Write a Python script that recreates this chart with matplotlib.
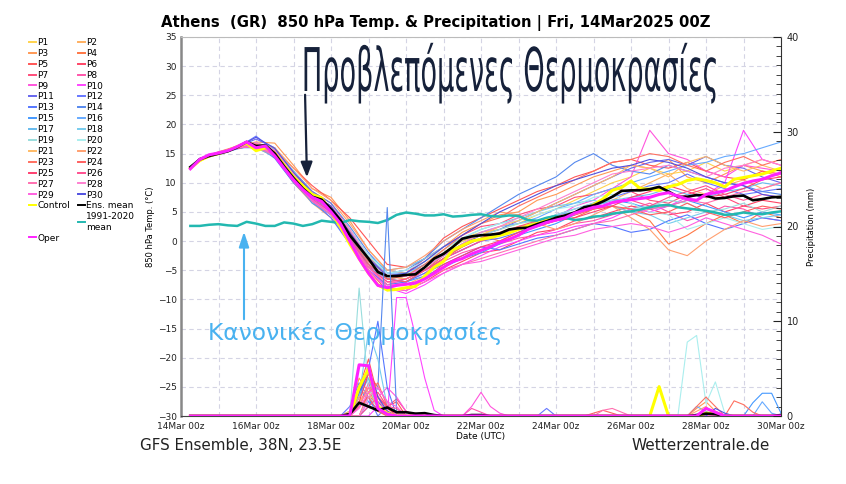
import numpy as np
import matplotlib
matplotlib.use('Agg')
import matplotlib.pyplot as plt
import matplotlib.font_manager as fm
from matplotlib.lines import Line2D
from matplotlib.patheffects import AbstractPathEffect
from matplotlib.transforms import Affine2D

# forecast hours (GFS 00Z run, 14Mar2025)
hours = np.arange(6, 385, 6)                      # 6h steps for mean/control/oper/climate
member_hours = np.array([6] + list(range(12, 385, 12)))  # 12h steps for members

ens_mean = [12.7, 14.0, 14.6, 15.0, 15.4, 16.1, 17.0, 16.3, 16.4, 15.0, 12.8, 10.8, 9.0, 7.6, 7.1, 5.5,
            3.6, 1.0, -1.0, -3.0, -5.3, -6.0, -6.0, -5.8, -5.7, -4.5, -3.0, -2.2, -1.0, 0.4, 0.8, 1.0,
            1.1, 1.3, 2.0, 2.2, 2.3, 2.9, 3.4, 4.0, 4.4, 4.9, 5.8, 6.1, 6.8, 7.6, 8.6, 8.7,
            8.7, 8.9, 9.3, 8.5, 7.6, 7.6, 7.9, 7.8, 7.3, 7.4, 7.7, 7.8, 7.0, 7.2, 7.5, 7.6]
control = [12.5, 13.8, 14.6, 15.0, 15.5, 16.2, 16.8, 15.5, 16.0, 15.0, 13.0, 11.0, 9.5, 8.0, 7.4, 5.0,
           2.5, -0.5, -3.0, -5.5, -7.5, -8.4, -8.3, -8.0, -7.8, -6.0, -4.5, -3.5, -1.5, -0.8, 0.0, 0.3,
           0.6, 1.0, 1.4, 2.0, 2.6, 3.0, 3.5, 3.9, 4.3, 4.8, 5.3, 6.2, 7.2, 8.7, 9.2, 10.3,
           9.0, 8.9, 8.7, 9.3, 9.7, 10.4, 10.7, 10.4, 10.0, 9.3, 10.6, 10.9, 11.2, 11.5, 12.0, 12.5]
oper = [12.4, 14.0, 14.8, 15.1, 15.5, 16.2, 17.0, 16.0, 16.3, 14.6, 12.5, 10.5, 8.8, 7.5, 6.8, 5.0,
        3.0, 0.0, -3.0, -5.5, -7.6, -8.0, -7.6, -7.4, -7.2, -6.5, -5.5, -4.5, -3.5, -3.0, -2.2, -1.6,
        -1.0, -0.2, 0.3, 1.0, 2.0, 2.6, 3.2, 3.6, 4.0, 4.8, 5.3, 5.8, 6.0, 6.6, 6.9, 7.1,
        7.3, 7.5, 8.0, 8.3, 7.7, 7.2, 7.0, 8.0, 8.3, 8.6, 9.3, 9.9, 10.3, 10.6, 11.2, 11.7]
clim = [2.6, 2.6, 2.8, 2.9, 2.7, 2.6, 3.3, 3.0, 2.6, 2.6, 3.2, 3.0, 2.6, 2.9, 3.5, 3.3,
        3.1, 3.6, 3.4, 3.3, 3.1, 3.6, 4.5, 4.9, 4.7, 4.4, 4.4, 4.6, 4.2, 4.3, 4.5, 4.6,
        4.3, 4.2, 4.4, 4.3, 3.6, 3.5, 4.0, 4.3, 4.0, 3.6, 3.8, 4.2, 4.3, 4.7, 4.9, 5.1,
        5.4, 5.8, 6.1, 6.2, 5.8, 5.6, 5.4, 5.2, 4.9, 4.5, 4.6, 4.9, 4.7, 4.6, 4.9, 5.1]

members = {
    'P1': [12.5, 14.1, 15.2, 16.0, 16.6, 15.4, 11.5, 7.8, 5.8, 1.5, -3.5, -6.5, -6.0, -4.0, -1.5, 0.5, 1.5, 2.0, 3.0, 4.5, 5.5, 7.0, 8.5, 10.0, 11.0, 12.5, 11.5, 12.0, 13.5, 12.0, 13.0, 14.0, 13.0],
    'P2': [12.6, 14.0, 15.0, 16.2, 16.0, 14.5, 10.0, 6.5, 4.0, 0.0, -4.5, -7.0, -7.5, -6.0, -3.0, -1.0, 0.5, 1.0, 2.5, 3.0, 4.0, 5.0, 6.5, 7.0, 8.5, 10.0, 11.5, 9.0, 8.0, 9.5, 10.5, 9.0, 10.0],
    'P3': [12.4, 14.2, 15.3, 16.3, 17.0, 16.8, 13.0, 9.0, 7.5, 3.5, -1.5, -5.0, -5.5, -3.5, -1.0, 1.5, 3.0, 4.5, 5.0, 7.0, 8.0, 9.5, 11.0, 12.0, 13.0, 12.5, 14.0, 11.0, 10.0, 11.5, 13.0, 12.0, 11.0],
    'P4': [12.7, 13.9, 15.0, 15.9, 16.4, 14.8, 11.0, 8.0, 6.0, 2.0, -2.5, -6.0, -6.5, -5.0, -2.5, -0.5, 1.0, 0.0, 1.5, 2.5, 3.5, 4.0, 5.5, 6.0, 5.0, 3.5, -0.5, 1.0, 3.0, 4.5, 3.0, 5.0, 4.0],
    'P5': [12.5, 14.0, 15.1, 16.1, 16.2, 15.8, 12.5, 9.5, 7.0, 4.0, 0.0, -4.0, -4.5, -3.0, 0.5, 2.5, 4.0, 5.5, 7.0, 8.5, 9.5, 11.0, 12.0, 13.5, 14.0, 13.0, 12.5, 13.5, 12.0, 11.0, 10.5, 12.0, 11.5],
    'P6': [12.6, 14.1, 15.0, 16.0, 16.8, 15.0, 11.0, 7.0, 4.5, 0.5, -4.0, -8.0, -8.5, -7.0, -5.0, -3.5, -2.0, -1.5, 0.0, 1.5, 2.0, 3.5, 4.0, 5.0, 6.0, 5.5, 4.5, 5.0, 6.5, 5.0, 6.0, 7.0, 6.5],
    'P7': [12.5, 14.0, 15.2, 16.2, 16.5, 15.5, 11.8, 8.5, 6.5, 2.0, -3.0, -6.0, -5.5, -3.0, -1.0, 1.0, 2.5, 3.0, 4.5, 5.5, 6.0, 7.5, 8.0, 9.0, 8.5, 7.0, 6.5, 8.0, 9.0, 7.5, 6.0, 5.5, 6.0],
    'P8': [12.4, 14.0, 15.1, 16.0, 16.4, 14.9, 10.5, 7.0, 5.0, 0.5, -4.5, -7.5, -6.5, -5.0, -3.5, -2.0, -1.0, -0.5, 0.5, 1.0, 2.0, 3.0, 3.5, 4.5, 5.5, 6.5, 5.0, 3.5, 4.5, 6.0, 5.5, 4.0, 3.5],
    'P9': [12.6, 14.2, 15.3, 16.1, 16.6, 15.3, 11.2, 7.5, 5.5, 1.0, -4.0, -7.0, -7.0, -5.5, -3.0, -1.5, 0.0, 1.0, 2.5, 3.0, 4.0, 6.0, 7.0, 9.0, 11.0, 19.0, 15.0, 14.0, 12.0, 11.0, 13.0, 12.5, 12.0],
    'P10': [12.5, 14.0, 15.0, 16.0, 16.3, 15.1, 10.8, 7.2, 5.2, 0.5, -4.5, -8.0, -9.0, -7.5, -5.5, -4.0, -2.5, -1.0, 0.0, 1.0, 1.5, 2.5, 3.0, 4.0, 5.5, 5.0, 6.0, 7.5, 8.0, 10.0, 19.0, 14.0, 13.0],
    'P11': [12.6, 14.1, 15.1, 16.1, 17.5, 16.0, 11.5, 8.0, 5.5, 1.0, -3.0, -6.0, -6.0, -4.5, -2.5, -0.5, 1.0, 2.0, 3.5, 5.0, 6.5, 8.0, 9.5, 11.0, 12.5, 13.5, 14.0, 13.0, 14.5, 13.0, 12.5, 11.0, 10.0],
    'P12': [12.5, 14.0, 15.0, 16.0, 18.0, 15.5, 11.0, 7.5, 5.0, 0.0, -4.0, -6.5, -7.0, -5.0, -3.0, -1.5, 0.0, 0.5, 1.5, 3.0, 4.5, 5.5, 6.5, 7.5, 8.5, 9.5, 10.0, 11.5, 10.0, 9.0, 8.0, 8.5, 9.0],
    'P13': [12.4, 13.9, 14.9, 15.8, 16.5, 14.2, 10.0, 6.8, 4.0, -0.5, -5.0, -7.5, -7.0, -5.5, -4.0, -2.5, -1.0, -1.5, -0.5, 0.5, 1.0, 2.0, 3.0, 2.5, 1.5, 2.0, 3.5, 4.5, 3.0, 2.0, 3.0, 4.0, 3.5],
    'P14': [12.6, 14.1, 15.2, 16.0, 16.9, 15.6, 12.0, 8.5, 6.5, 2.5, -2.0, -5.5, -5.0, -3.0, 0.0, 2.0, 4.0, 6.0, 8.0, 9.5, 11.0, 13.5, 15.0, 13.0, 12.0, 11.5, 13.0, 12.0, 11.0, 10.0, 9.5, 8.5, 8.0],
    'P15': [12.5, 14.0, 15.0, 15.9, 16.4, 14.7, 10.5, 6.5, 4.5, 0.5, -3.5, -6.5, -7.0, -6.0, -4.5, -3.0, -2.0, -0.5, 1.0, 2.0, 3.0, 4.5, 6.0, 7.0, 6.5, 5.5, 6.0, 7.0, 6.0, 5.0, 4.0, 5.0, 4.5],
    'P16': [12.7, 14.2, 15.1, 16.2, 16.2, 15.2, 11.0, 7.5, 5.5, 1.5, -3.0, -5.5, -5.5, -4.0, -2.0, 0.0, 1.5, 2.5, 3.0, 4.0, 5.5, 6.5, 8.0, 9.0, 10.0, 11.0, 12.0, 13.0, 13.5, 14.5, 15.0, 16.0, 17.0],
    'P17': [12.5, 14.0, 15.0, 16.0, 16.0, 14.5, 10.5, 7.0, 4.5, 0.0, -4.5, -6.5, -6.0, -4.0, -2.5, -1.0, 0.5, 1.0, 2.0, 3.5, 4.5, 5.0, 6.0, 7.0, 7.5, 8.0, 9.0, 8.0, 7.5, 8.5, 9.0, 10.0, 9.5],
    'P18': [12.6, 14.1, 15.2, 16.1, 16.7, 15.8, 12.0, 8.0, 6.0, 2.0, -2.5, -5.0, -4.5, -3.0, -1.0, 0.5, 2.0, 3.0, 4.0, 5.0, 6.0, 6.5, 7.0, 6.0, 5.0, 4.5, 3.0, 4.0, 5.0, 4.5, 3.5, 4.0, 4.5],
    'P19': [12.5, 13.9, 15.0, 16.0, 16.3, 15.0, 10.8, 7.2, 5.0, 1.0, -3.5, -6.0, -5.5, -4.5, -2.0, 0.0, 1.0, 2.0, 3.0, 3.5, 4.5, 5.5, 6.5, 7.0, 5.5, 6.0, 7.0, 6.5, 5.0, 5.5, 6.5, 5.0, 6.0],
    'P20': [12.6, 14.0, 15.1, 16.1, 16.5, 15.4, 11.5, 7.8, 6.0, 2.0, -2.5, -5.5, -5.0, -3.5, -1.5, 0.5, 2.0, 3.0, 3.5, 4.5, 5.5, 6.0, 7.5, 8.0, 6.5, 5.0, 4.5, 2.0, 3.0, 4.0, 3.0, 2.0, 2.5],
    'P21': [12.4, 14.1, 15.1, 16.0, 16.6, 15.5, 11.8, 8.0, 5.5, 1.5, -3.0, -6.0, -6.5, -4.5, -2.0, 0.0, 1.0, 2.5, 3.5, 5.0, 6.5, 8.0, 9.5, 11.0, 13.0, 12.5, 11.0, 13.5, 14.5, 13.0, 12.0, 13.0, 12.0],
    'P22': [12.5, 14.0, 15.0, 16.1, 16.8, 16.0, 12.5, 9.0, 7.0, 3.0, -1.5, -5.0, -4.5, -2.5, 0.0, 2.0, 3.5, 5.0, 4.5, 3.0, 2.0, 3.0, 4.5, 6.0, 4.0, 2.0, -1.5, -2.5, 0.0, 2.0, 3.5, 2.5, 3.0],
    'P23': [12.6, 14.1, 15.2, 16.0, 16.3, 15.0, 11.0, 7.5, 5.5, 1.0, -4.0, -6.5, -6.0, -4.0, -1.5, 1.0, 3.0, 4.0, 6.0, 7.5, 9.0, 10.5, 12.0, 13.5, 14.0, 15.0, 14.5, 13.0, 12.0, 13.5, 14.5, 13.0, 14.0],
    'P24': [12.5, 14.0, 15.1, 16.2, 16.5, 15.3, 11.2, 7.8, 5.8, 1.5, -3.5, -6.5, -7.0, -5.0, -3.0, -1.0, 0.5, 1.5, 2.5, 3.5, 4.0, 4.5, 5.5, 6.0, 5.5, 4.5, 5.0, 6.5, 5.0, 4.0, 5.0, 6.0, 5.5],
    'P25': [12.6, 14.1, 15.0, 15.9, 16.4, 14.9, 10.5, 7.0, 5.0, 0.0, -5.0, -8.5, -8.0, -6.5, -4.0, -2.5, -1.0, 0.0, 1.5, 2.5, 3.5, 4.0, 5.0, 6.0, 7.5, 8.5, 9.5, 8.5, 7.5, 8.0, 9.0, 10.5, 11.0],
    'P26': [12.5, 14.0, 15.2, 16.1, 16.6, 15.1, 11.0, 7.2, 5.0, 0.5, -4.5, -7.0, -6.5, -5.0, -3.0, -1.5, 0.0, 1.0, 2.0, 3.0, 4.0, 4.5, 5.5, 6.5, 7.0, 6.0, 7.5, 8.5, 9.5, 8.0, 7.0, 8.0, 7.5],
    'P27': [12.4, 13.9, 15.0, 16.0, 16.2, 14.6, 10.2, 6.8, 4.5, 0.0, -4.5, -7.5, -7.5, -6.5, -5.0, -4.0, -3.0, -2.0, -1.0, 0.0, 1.0, 2.0, 3.0, 3.5, 4.5, 5.5, 6.0, 7.0, 6.5, 7.5, 8.5, 9.0, 10.0],
    'P28': [12.6, 14.1, 15.1, 16.1, 16.9, 15.6, 11.5, 8.0, 6.0, 2.0, -3.0, -6.0, -6.0, -4.5, -2.5, -0.5, 1.5, 2.5, 4.0, 5.5, 7.0, 8.5, 10.0, 11.5, 12.0, 12.5, 13.0, 12.0, 11.0, 12.5, 13.0, 14.0, 13.0],
    'P29': [12.5, 14.0, 15.0, 16.0, 16.4, 14.8, 10.6, 7.0, 4.8, 0.0, -5.0, -8.0, -8.5, -7.0, -5.5, -4.0, -3.5, -2.5, -1.5, -0.5, 0.5, 1.0, 2.0, 2.5, 3.0, 2.5, 1.5, 2.5, 4.0, 3.0, 2.0, 1.0, -0.5],
    'P30': [12.6, 14.1, 15.1, 16.1, 17.8, 15.9, 11.8, 8.2, 6.0, 1.5, -3.0, -6.0, -5.5, -3.5, -1.0, 1.0, 3.0, 5.0, 6.5, 8.0, 9.5, 10.5, 11.5, 12.5, 13.0, 14.0, 13.5, 12.5, 11.0, 10.0, 9.5, 8.0, 7.5],
}

member_colors = ['#ffd34d', '#ffb060', '#ff9955', '#ff7744', '#ff5555', '#ff4466', '#ff4d7a', '#ff55aa',
                 '#ff55dd', '#ff44ff', '#6666ee', '#6677ff', '#5577ff', '#5588ee', '#4499ff', '#66aaff',
                 '#66bbee', '#77ccee', '#99dddd', '#aaeeee', '#ffbb66', '#ffa070', '#ff7060', '#ff6060',
                 '#ff4070', '#ff5090', '#ff70b0', '#ff80d0', '#ff60e0', '#5050e0']

# 6-hourly precipitation (mm), only the non-zero steps: (forecast hour, mm)
member_precip = {
    'P1': [(108, 0.3), (114, 2.0), (120, 1.0), (126, 0.5)],
    'P2': [(114, 1.5), (120, 3.0), (126, 0.8), (132, 0.3)],
    'P3': [(108, 0.5), (114, 4.0), (120, 2.5), (126, 1.2), (138, 0.3), (330, 0.8), (336, 1.5), (342, 0.5)],
    'P4': [(114, 1.0), (120, 2.0), (126, 1.5), (132, 0.5), (150, 0.3)],
    'P5': [(114, 3.0), (120, 6.0), (126, 2.0), (132, 1.0), (138, 1.5)],
    'P6': [(108, 0.3), (114, 2.5), (120, 4.5), (126, 3.0), (132, 1.5), (144, 0.5)],
    'P7': [(120, 2.0), (126, 2.5), (132, 1.0), (138, 1.8), (144, 0.5)],
    'P8': [(114, 1.0), (120, 3.5), (126, 1.0), (186, 0.8), (192, 0.4)],
    'P9': [(120, 1.5), (126, 2.0), (132, 3.0), (138, 2.0), (144, 0.5), (186, 1.0), (192, 2.5), (198, 1.0), (204, 0.3)],
    'P10': [(126, 1.0), (138, 12.5), (144, 12.5), (150, 8.5), (156, 4.0), (162, 0.6)],
    'P11': [(114, 2.5), (120, 4.0), (126, 1.5), (132, 0.5)],
    'P12': [(108, 1.0), (114, 3.5), (120, 2.0), (132, 1.0), (234, 0.8)],
    'P13': [(114, 2.0), (120, 5.0), (126, 10.0), (132, 3.0)],
    'P14': [(120, 1.0), (126, 3.0), (132, 22.0), (138, 0.5)],
    'P15': [(114, 3.0), (120, 1.5), (126, 0.8), (366, 1.4), (372, 2.4), (378, 2.4), (384, 0.3)],
    'P16': [(120, 2.0), (126, 1.0), (330, 1.0), (336, 0.5), (372, 1.5), (378, 0.3)],
    'P17': [(114, 2.0), (120, 4.0), (126, 1.0)],
    'P18': [(108, 0.5), (114, 2.0), (120, 9.0), (126, 6.0), (132, 1.0)],
    'P19': [(114, 13.5), (120, 3.0), (126, 1.0), (138, 0.5)],
    'P20': [(120, 2.0), (126, 1.0), (324, 7.8), (330, 8.5), (336, 1.3), (342, 3.6), (348, 0.3)],
    'P21': [(108, 0.5), (114, 1.5), (120, 2.5), (126, 1.0)],
    'P22': [(114, 2.0), (120, 3.0), (126, 2.0), (132, 0.8), (330, 0.5), (336, 1.0)],
    'P23': [(120, 2.5), (126, 3.5), (132, 1.0), (330, 1.0), (336, 2.0), (342, 1.0), (354, 1.6), (360, 1.2), (366, 0.4)],
    'P24': [(114, 1.0), (120, 2.0), (126, 0.5), (264, 0.3), (270, 0.6), (276, 0.3)],
    'P25': [(114, 1.5), (120, 4.5), (126, 2.0), (132, 1.0)],
    'P26': [(120, 1.0), (126, 2.0), (132, 1.0), (138, 0.8), (156, 0.3)],
    'P27': [(114, 1.0), (120, 3.0), (126, 2.0), (270, 0.6), (276, 0.8), (282, 0.4)],
    'P28': [(120, 2.0), (126, 3.0), (132, 1.5), (144, 0.5)],
    'P29': [(114, 0.8), (120, 2.5), (126, 3.0), (132, 1.5), (138, 1.0)],
    'P30': [(114, 2.5), (120, 5.0), (126, 2.0), (132, 0.5), (342, 0.8), (348, 0.3)],
}
control_precip = [(114, 3.0), (120, 5.0), (126, 1.0), (132, 0.3), (306, 3.1), (336, 0.3), (342, 0.3)]
oper_precip = [(114, 5.4), (120, 5.3), (126, 0.8), (132, 0.2), (336, 0.8), (342, 0.4)]
mean_precip = [(108, 0.2), (114, 1.4), (120, 1.0), (126, 0.6), (132, 0.9), (138, 0.4), (144, 0.4),
               (150, 0.25), (156, 0.3), (162, 0.1), (186, 0.1), (192, 0.1), (330, 0.1), (336, 0.25),
               (342, 0.2), (384, 0.1)]

tick_hours = list(range(0, 385, 48))
tick_labels = ['14Mar 00z', '16Mar 00z', '18Mar 00z', '20Mar 00z', '22Mar 00z',
               '24Mar 00z', '26Mar 00z', '28Mar 00z', '30Mar 00z']


def precip_series(pairs):
    p = np.zeros(len(hours))
    for h, v in pairs:
        p[h // 6 - 1] = v
    return p


class Squeeze(AbstractPathEffect):
    """scale the drawn glyph outlines about (x0, y0) in display pixels"""
    def __init__(self, sx, sy, x0, y0):
        super().__init__()
        self.t = Affine2D().translate(-x0, -y0).scale(sx, sy).translate(x0, y0)

    def draw_path(self, renderer, gc, tpath, affine, rgbFace=None):
        renderer.draw_path(gc, tpath, affine + self.t, rgbFace)


# a narrow upright face for the big overlay text, if there is one
big_font = fm.FontProperties(family='DejaVu Sans')
for f in fm.fontManager.ttflist:
    if f.style == 'normal' and f.weight in (400, 'normal', 'regular', 'book') and \
            ('Condensed' in f.name or 'Narrow' in f.name or str(f.stretch) in ('condensed', 'semi-condensed')):
        big_font = fm.FontProperties(fname=f.fname)
        break

fig = plt.figure(figsize=(8.46, 4.84), dpi=100)
W, H = 846, 484
ax = fig.add_axes([181 / W, 1 - 416 / H, 600 / W, 379 / H])
ax2 = ax.twinx()

grid_c = '#d4d4e4'
ax.set_xlim(0, 384)
ax.set_ylim(-30, 35)
ax.set_yticks(range(-30, 36, 5))
ax.set_xticks(tick_hours)
ax.set_xticklabels(tick_labels)
ax.set_xticks(range(0, 385, 24), minor=True)
ax.grid(True, which='both', axis='x', color=grid_c, ls=(0, (4, 3)), lw=0.8)
ax.grid(True, which='major', axis='y', color=grid_c, ls=(0, (4, 3)), lw=0.8)
ax.tick_params(axis='both', which='both', length=0, labelsize=6.5, colors='#222222', pad=3)
ax.tick_params(axis='x', pad=4)
ax.set_ylabel('850 hPa Temp. (°C)', fontsize=6, labelpad=2)
ax.set_xlabel('Date (UTC)', fontsize=6.5, labelpad=1)
ax.spines['left'].set_color('#888888')
ax.spines['left'].set_linewidth(1.8)
ax.spines['top'].set_color('#bbbbbb')
ax.spines['bottom'].set_color('#444444')
ax.spines['right'].set_color('#333333')

for (name, temps), col in zip(members.items(), member_colors):
    ax.plot(member_hours, temps, color=col, lw=0.8)
ax.plot(hours, clim, color='#22b8b0', lw=1.8)
ax.plot(hours, control, color='#ffff00', lw=2.2)
ax.plot(hours, ens_mean, color='black', lw=1.9)
ax.plot(hours, oper, color='#ff22ff', lw=2.2)

# precipitation on the right axis
for (name, pairs), col in zip(member_precip.items(), member_colors):
    ax2.plot(hours, precip_series(pairs), color=col, lw=0.8)
ax2.plot(hours, precip_series(control_precip), color='#ffff00', lw=2.2)
ax2.plot(hours, precip_series(mean_precip), color='black', lw=1.9)
ax2.plot(hours, precip_series(oper_precip), color='#ff22ff', lw=2.2)
ax2.set_ylim(0, 40)
ax2.set_yticks(range(0, 41, 10))
ax2.set_yticks(range(0, 41, 1), minor=True)
ax2.tick_params(axis='y', which='major', direction='in', length=6, labelsize=7, colors='#222222', pad=4)
ax2.tick_params(axis='y', which='minor', direction='in', length=3.5, color='#222222')
ax2.set_ylabel('Precipitation (mm)', fontsize=6, labelpad=6)
for s in ax2.spines.values():
    s.set_visible(False)

# title and footer
fig.text(161 / W, 1 - 23 / H, 'Athens  (GR)  850 hPa Temp. & Precipitation | Fri, 14Mar2025 00Z',
         fontsize=10.7, fontweight='bold', va='center', ha='left')
fig.text(140 / W, 1 - 445 / H, 'GFS Ensemble, 38N, 23.5E', fontsize=10.9, va='center', ha='left', color='#222222')
fig.text(770 / W, 1 - 445 / H, 'Wetterzentrale.de', fontsize=11, va='center', ha='right', color='#222222')

# legend
handles = []
labels = []
col1 = [('P%d' % i, member_colors[i - 1]) for i in range(1, 30, 2)] + [('Control', '#ffff00'), ('\n', 'none'), ('Oper', '#ff22ff')]
col2 = [('P%d' % i, member_colors[i - 1]) for i in range(2, 31, 2)] + [('Ens. mean', 'black'), ('1991-2020\nmean', '#22b8b0')]
for lab, c in col1 + col2:
    handles.append(Line2D([], [], color=c, lw=1.4))
    labels.append(lab)
fig.legend(handles, labels, ncol=2, loc='upper left', bbox_to_anchor=(29 / W, 1 - 38 / H),
           frameon=False, fontsize=6.5, handlelength=0.8, handletextpad=0.1,
           labelspacing=0.21, columnspacing=0.9, borderpad=0, borderaxespad=0)

# overlay annotations: big narrow heading, sized to the reference width, then stretched up
renderer = fig.canvas.get_renderer()
big_x, big_base, big_w, big_cap = 510, H - 91, 416, 44
big = fig.text(big_x / W, big_base / H, 'Προβλεπόμενες Θερμοκρασίες', fontproperties=big_font,
               fontsize=20, color='#16213a', ha='center', va='baseline')
w0 = big.get_window_extent(renderer).width
fs = 20 * big_w / w0
big.set_fontsize(fs)
sy = big_cap / (0.73 * fs * 100 / 72)
big.set_path_effects([Squeeze(1.0, sy, big_x, big_base)])

ax.annotate('', xy=(307, H - 180), xytext=(305, H - 92), xycoords='figure pixels', textcoords='figure pixels',
            arrowprops=dict(arrowstyle='-|>,head_length=0.9,head_width=0.35', color='#16213a', lw=1.6))
fig.text(355 / W, 1 - 340 / H, 'Κανονικές Θερμοκρασίες', family='DejaVu Sans', fontsize=16.8,
         color='#49b2f0', ha='center', va='baseline')
ax.annotate('', xy=(244, H - 229), xytext=(244, H - 322), xycoords='figure pixels', textcoords='figure pixels',
            arrowprops=dict(arrowstyle='-|>,head_length=0.9,head_width=0.3', color='#49b2f0', lw=1.5))

fig.savefig('out.png', dpi=100)
